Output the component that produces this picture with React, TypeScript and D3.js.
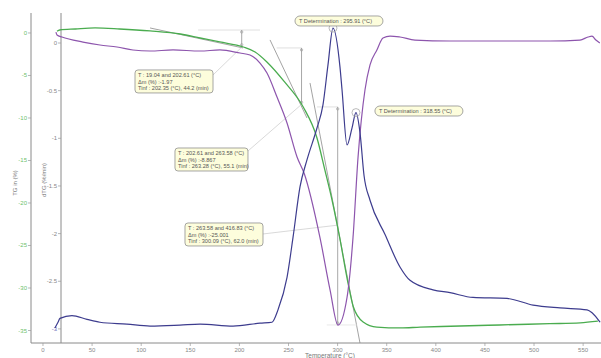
import * as d3 from 'd3';
import React from 'react';

// --- TG curve (%) ---
const tgTemp = [14.3, 17, 33, 53, 78, 109, 140, 160, 180, 204, 216, 228, 246, 265, 279, 287, 295, 302, 310, 316, 326, 340, 364, 384, 415, 465, 516, 547, 565];
const tgVal = [0.2, 0.35, 0.47, 0.59, 0.47, 0.24, -0.12, -0.59, -1.06, -1.65, -2.24, -3.41, -5.76, -8.71, -12.35, -16.1, -20.0, -24.0, -29.06, -32.2, -34.0, -34.6, -34.7, -34.6, -34.5, -34.35, -34.2, -34.1, -33.9];

// --- dTG curve (%/min) ---
const dtgTemp = [13.2, 14.3, 19.3, 40.7, 58, 75.4, 91.6, 109, 132.4, 159.9, 180.2, 200.6, 210.8, 221, 228.1, 238.3, 248.5, 258.7, 266, 282, 292.3, 300.4, 309.6, 315.7, 320.8, 327.9, 333, 340, 346.2, 353.4, 363.5, 378.8, 414.5, 465.4, 516.3, 546.8, 555, 559, 563, 567];
const dtgVal = [0.115, 0.084, 0.063, 0.01, -0.021, -0.042, -0.073, -0.084, -0.073, -0.084, -0.073, -0.105, -0.126, -0.21, -0.315, -0.567, -0.839, -1.196, -1.37, -2.04, -2.59, -2.96, -2.67, -2.04, -1.2, -0.49, -0.23, -0.073, 0.052, 0.073, 0.063, 0.031, 0.021, 0.021, 0.021, 0.031, 0.063, 0.073, 0.031, 0.0];

// --- second derivative-like curve with the two determined peaks ---
const peakTemp = [12.2, 15.3, 17.3, 29.5, 44.8, 58, 85.5, 109, 139.5, 159.9, 193.5, 221, 233.2, 239.3, 248.5, 254.6, 261.7, 268.8, 279, 285.1, 290.2, 295.3, 302.4, 304.5, 309.6, 314.7, 318.7, 322.8, 326.9, 333, 348.3, 363.5, 373.7, 397.1, 414.5, 437.9, 472.5, 499, 526.5, 554, 559.1, 567.2];
const peakVal = [-2.99, -2.93, -2.89, -2.86, -2.9, -2.93, -2.95, -2.97, -2.96, -2.95, -2.97, -2.94, -2.93, -2.8, -2.46, -2.04, -1.51, -1.227, -0.892, -0.65, -0.23, 0.157, -0.25, -0.49, -1.07, -0.89, -0.73, -0.94, -1.39, -1.65, -2.01, -2.35, -2.49, -2.59, -2.62, -2.67, -2.68, -2.75, -2.78, -2.8, -2.83, -2.93];

// axis ticks
const xTicks = [0, 50, 100, 150, 200, 250, 300, 350, 400, 450, 500, 550];
const tgTicks = [0, -5, -10, -15, -20, -25, -30, -35];
const dtgTicks = [0, -0.5, -1, -1.5, -2, -2.5, -3];

// tangents (T, TG)
const tangents: [number, number, number, number][] = [
  [109, 0.59, 203.7, -1.76],
  [231.2, -0.82, 268.8, -10.0],
  [271.9, -5.88, 322.8, -36.47],
];

// mass step markers: Tinf, top TG, bottom TG, horizontal from T, to T
const steps: [number, number, number, number, number][] = [
  [202.35, 0.35, -1.62, 158, 221],
  [263.28, -1.76, -8.4, 238, 263.3],
  [300.09, -8.7, -34.35, 279, 300.4],
];

const boxLines = [
  ['T : 19.04 and 202.61 (°C)', 'Δm (%) :-1.97', 'Tinf : 202.35 (°C), 44.2 (min)'],
  ['T : 202.61 and 263.58 (°C)', 'Δm (%) :-8.867', 'Tinf : 263.28 (°C), 55.1 (min)'],
  ['T : 263.58 and 416.83 (°C)', 'Δm (%) :-25.001', 'Tinf : 300.09 (°C), 62.0 (min)'],
];
// box anchor (T, TG) and connector target (T, TG)
const boxAnchor: [number, number][] = [[93.7, -4.35], [134.4, -13.53], [144.6, -22.35]];
const boxTarget: [number, number][] = [[201.5, -1.76], [263.3, -8.4], [300.4, -22.6]];

const peakLabels = ['T Determination :  295.91  (°C)', 'T Determination :  318.55  (°C)'];
const peakAt: [number, number][] = [[295.3, 0.157], [318.7, -0.73]];
const peakBox: [number, number][] = [[256.6, 2.0], [338, -8.59]];

const W = 601;
const H = 358;
const GREEN = '#4aac4f';
const PURPLE = '#8d55ad';
const NAVY = '#3d3c8e';
const font = 'Liberation Sans, Arial, sans-serif';

export default function App() {
  const x = d3.scaleLinear().domain([-12.2, 568.2]).range([31, 601]);
  const yTG = d3.scaleLinear().domain([2.35, -36.47]).range([13, 343]);
  const yD = d3.scaleLinear().domain([0.315, -3.148]).range([13, 343]);

  const tgLine = d3.line<number>().x((d, i) => x(tgTemp[i])).y(d => yTG(d)).curve(d3.curveMonotoneX);
  const dtgLine = d3.line<number>().x((d, i) => x(dtgTemp[i])).y(d => yD(d)).curve(d3.curveMonotoneX);
  const pkLine = d3.line<number>().x((d, i) => x(peakTemp[i])).y(d => yD(d)).curve(d3.curveMonotoneX);

  const axisY0 = yD(-3.148);

  return (
    <svg width={W} height={H} style={{ position: 'absolute', left: 0, top: 0, background: '#fff' }} fontFamily={font}>
      {/* axes */}
      <line x1={31} x2={31} y1={13} y2={axisY0} stroke="#8a8a8a" strokeWidth={1} />
      <line x1={61} x2={61} y1={13} y2={axisY0} stroke="#8a8a8a" strokeWidth={1} />
      <line x1={31} x2={W} y1={axisY0} y2={axisY0} stroke="#8a8a8a" strokeWidth={1} />

      {tgTicks.map(t => (
        <g key={'tg' + t}>
          <line x1={28} x2={31} y1={yTG(t)} y2={yTG(t)} stroke="#999" strokeWidth={0.7} />
          <text x={27} y={yTG(t) + 2} fontSize={6} fill="#6cbf6c" textAnchor="end">{t}</text>
        </g>
      ))}
      {dtgTicks.map(t => (
        <g key={'d' + t}>
          <line x1={58} x2={61} y1={yD(t)} y2={yD(t)} stroke="#999" strokeWidth={0.7} />
          <text x={57} y={yD(t) + 2} fontSize={6} fill={t === -3 ? '#6a6ab8' : '#888'} textAnchor="end">{t}</text>
        </g>
      ))}
      {xTicks.map(t => (
        <g key={'x' + t}>
          <line x1={x(t)} x2={x(t)} y1={axisY0} y2={axisY0 + 3} stroke="#999" strokeWidth={0.7} />
          <text x={x(t)} y={352} fontSize={6} fill="#888" textAnchor="middle">{t}</text>
        </g>
      ))}

      <text transform="translate(17,183) rotate(-90)" fontSize={6} fill="#777" textAnchor="middle">TG in (%)</text>
      <text transform="translate(46,180) rotate(-90)" fontSize={6} fill="#777" textAnchor="middle">dTG (%/min)</text>
      <text x={330} y={358} fontSize={6.5} fill="#777" textAnchor="middle">Temperature (°C)</text>

      {/* tangents */}
      {tangents.map((t, i) => (
        <line key={'tan' + i} x1={x(t[0])} y1={yTG(t[1])} x2={x(t[2])} y2={yTG(t[3])} stroke="#8c8c8c" strokeWidth={0.8} />
      ))}

      {/* step markers */}
      {steps.map((s, i) => (
        <g key={'st' + i}>
          <line x1={x(s[3])} x2={x(s[4])} y1={yTG(s[1])} y2={yTG(s[1])} stroke="#d8d8d8" strokeWidth={0.8} />
          <line x1={x(s[0])} x2={x(s[0])} y1={yTG(s[1])} y2={yTG(s[2])} stroke="#a8a8a8" strokeWidth={1} />
          <circle cx={x(s[0])} cy={yTG(s[1]) + 2} r={1.2} fill="none" stroke="#999" strokeWidth={0.6} />
          <circle cx={x(s[0])} cy={yTG(s[2]) - 2} r={1.2} fill="none" stroke="#999" strokeWidth={0.6} />
        </g>
      ))}
      <line x1={x(289)} x2={x(320)} y1={yTG(-34.35)} y2={yTG(-34.35)} stroke="#e2e2e2" strokeWidth={0.8} />

      {/* connectors */}
      {boxAnchor.map((a, i) => {
        const bx = x(a[0]);
        const by = yTG(a[1]);
        const sx = i === 0 ? bx + 77 : bx + (i === 1 ? 73 : 78);
        const sy = i === 0 ? by + 6 : i === 1 ? by + 3 : by + 11;
        return <line key={'c' + i} x1={sx} y1={sy} x2={x(boxTarget[i][0])} y2={yTG(boxTarget[i][1])} stroke="#cfcfcf" strokeWidth={0.8} />;
      })}

      {/* curves */}
      <path d={tgLine(tgVal) || ''} fill="none" stroke={GREEN} strokeWidth={1.3} />
      <path d={dtgLine(dtgVal) || ''} fill="none" stroke={PURPLE} strokeWidth={1.2} />
      <path d={pkLine(peakVal) || ''} fill="none" stroke={NAVY} strokeWidth={1.2} />

      {/* peak markers */}
      {peakAt.map((p, i) => (
        <circle key={'pk' + i} cx={x(p[0])} cy={yD(p[1])} r={4} fill="none" stroke="#aaa" strokeWidth={0.8} />
      ))}

      {/* annotation boxes */}
      {boxLines.map((lines, i) => {
        const bx = x(boxAnchor[i][0]);
        const by = yTG(boxAnchor[i][1]);
        const w = i === 1 ? 73 : 78;
        return (
          <g key={'b' + i}>
            <rect x={bx} y={by} width={w} height={23} rx={3} fill="#fdfddc" stroke="#8f8f8f" strokeWidth={0.8} />
            {lines.map((l, j) => (
              <text key={j} x={bx + 3} y={by + 7 + j * 6.6} fontSize={5.6} fill="#555">{l}</text>
            ))}
          </g>
        );
      })}
      {peakLabels.map((l, i) => {
        const bx = x(peakBox[i][0]);
        const by = yTG(peakBox[i][1]);
        return (
          <g key={'pl' + i}>
            <rect x={bx} y={by} width={88} height={10} rx={5} fill="#fdfddc" stroke="#8f8f8f" strokeWidth={0.8} />
            <text x={bx + 4} y={by + 7} fontSize={5.6} fill="#555">{l}</text>
          </g>
        );
      })}
    </svg>
  );
}
